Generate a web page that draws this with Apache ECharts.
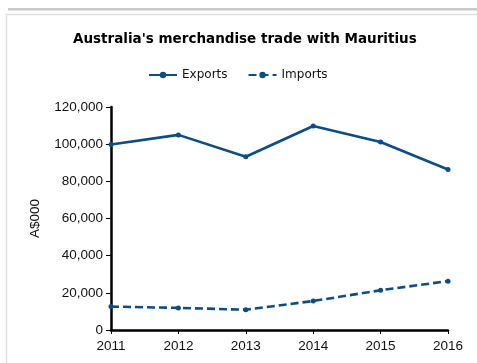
<!DOCTYPE html>
<html>
<head>
<meta charset="utf-8">
<style>
  html, body { margin: 0; padding: 0; background: #fff; }
  #chart { width: 477px; height: 363px; }
</style>
<script src="https://cdn.jsdelivr.net/npm/echarts@6/dist/echarts.min.js"></script>
</head>
<body>
<div id="chart"></div>
<script>
// Australia's merchandise trade with Mauritius, A$000
const years = ['2011', '2012', '2013', '2014', '2015', '2016'];
const exportsValues = [99800, 105000, 93200, 109800, 101200, 86400];
const importsValues = [12600, 11900, 10900, 15600, 21400, 26300];
const yTicks = { min: 0, max: 120000, interval: 20000 };

const navy = '#0e4c86';
const chart = echarts.init(document.getElementById('chart'), null, { renderer: 'canvas' });

chart.setOption({
  animation: false,
  backgroundColor: '#fff',
  graphic: [
    // panel frame
    { type: 'rect', shape: { x: 8, y: 8, width: 469, height: 2.5 }, style: { fill: '#c9c9c9' }, silent: true },
    { type: 'line', shape: { x1: 6, y1: 14.5, x2: 477, y2: 14.5 }, style: { stroke: '#dedede', lineWidth: 1.5 }, silent: true },
    { type: 'line', shape: { x1: 6.5, y1: 14, x2: 6.5, y2: 363 }, style: { stroke: '#dedede', lineWidth: 1.5 }, silent: true }
  ],
  title: {
    text: "Australia's merchandise trade with Mauritius",
    left: 68,
    top: 27,
    textStyle: { fontFamily: 'DejaVu Sans', fontWeight: 'bold', fontSize: 13.5, color: '#000' }
  },
  legend: {
    top: 64,
    left: 143,
    itemWidth: 28,
    itemHeight: 8,
    itemGap: 20,
    textStyle: { fontFamily: 'DejaVu Sans', fontSize: 12, color: '#111' },
    data: ['Exports', 'Imports']
  },
  grid: { left: 111, right: 29, top: 107, bottom: 33, containLabel: false },
  xAxis: {
    type: 'category',
    data: years,
    boundaryGap: false,
    axisLine: { lineStyle: { color: '#000', width: 2.5 } },
    axisTick: { show: true, length: 4, lineStyle: { color: '#000', width: 1 } },
    axisLabel: { fontFamily: 'Liberation Sans', fontSize: 13.5, color: '#111', margin: 9 },
    splitLine: { show: false }
  },
  yAxis: {
    type: 'value',
    min: yTicks.min,
    max: yTicks.max,
    interval: yTicks.interval,
    name: 'A$000',
    nameLocation: 'middle',
    nameGap: 69,
    nameTextStyle: { fontFamily: 'Liberation Sans', fontSize: 13.5, color: '#111' },
    axisLine: { show: true, lineStyle: { color: '#000', width: 2.5 } },
    axisTick: { show: true, length: 5, lineStyle: { color: '#000', width: 1 } },
    axisLabel: {
      fontFamily: 'Liberation Sans', fontSize: 13.5, color: '#111', margin: 8,
      formatter: v => v.toLocaleString('en-US')
    },
    splitLine: { show: false }
  },
  series: [
    {
      name: 'Exports',
      type: 'line',
      data: exportsValues,
      symbol: 'circle',
      symbolSize: 5,
      itemStyle: { color: navy },
      lineStyle: { color: navy, width: 2.6 }
    },
    {
      name: 'Imports',
      type: 'line',
      data: importsValues,
      symbol: 'circle',
      symbolSize: 5,
      itemStyle: { color: navy },
      lineStyle: { color: navy, width: 2.6, type: [8, 4] }
    }
  ]
});
</script>
</body>
</html>
